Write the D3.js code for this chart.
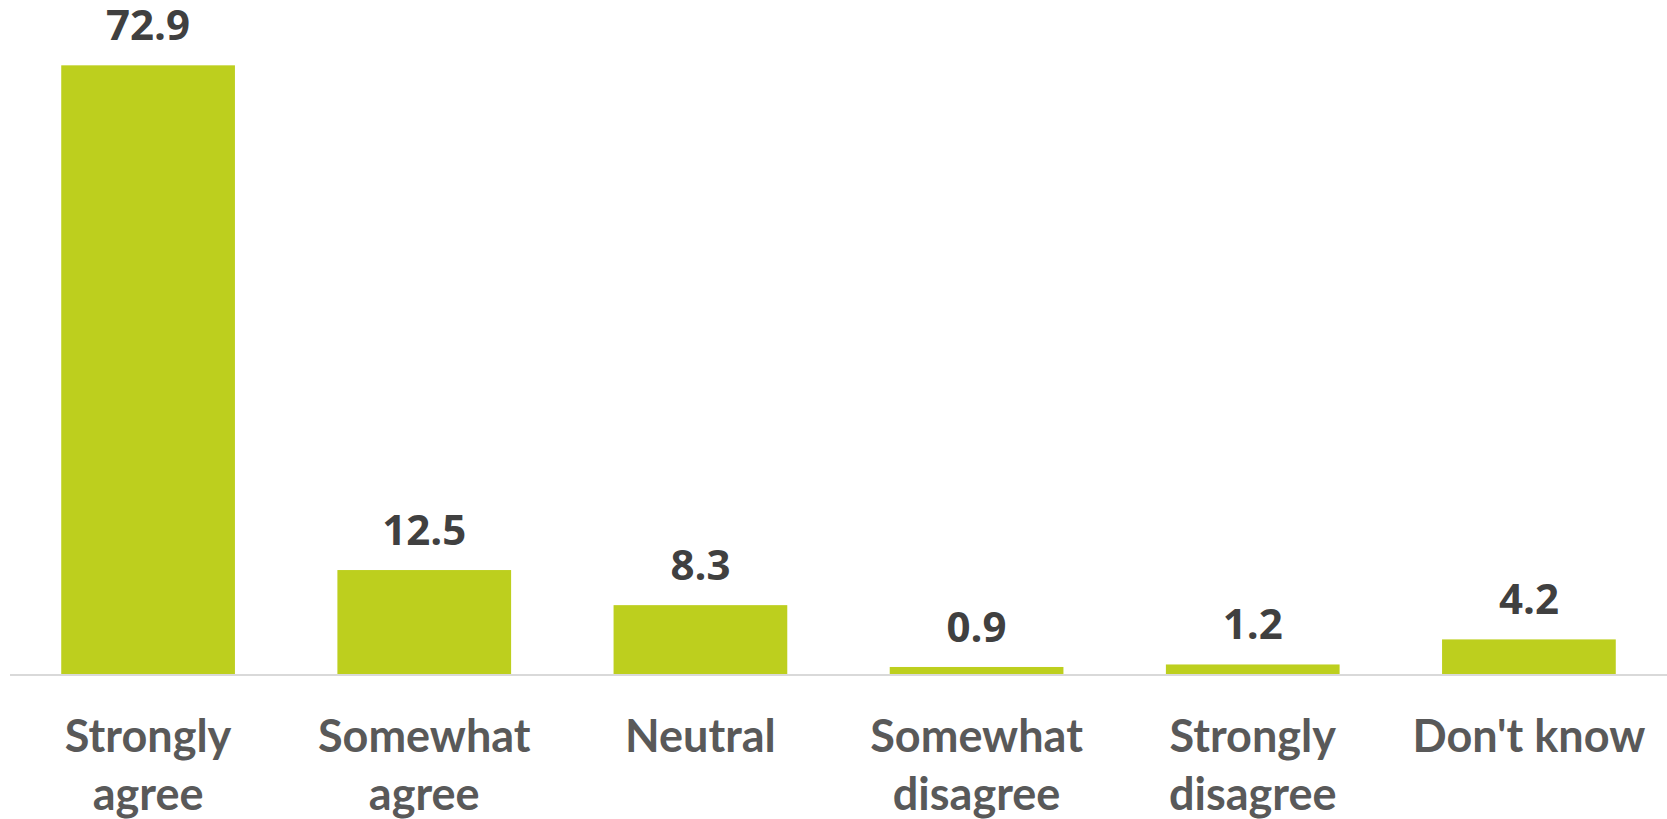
<!DOCTYPE html>
<html>
<meta charset="utf-8">
<script src="https://d3js.org/d3.v7.min.js"></script>
<style>
  body { margin: 0; background: #fff; }
</style>
<body>
<div id="barChart"></div>
<script>

    // chart data
    var categories = ["Strongly agree", "Somewhat agree", "Neutral", "Somewhat disagree", "Strongly disagree", "Don't know"];
    var values = [72.9, 12.5, 8.3, 0.9, 1.2, 4.2];
    var labelLines = [["Strongly", "agree"], ["Somewhat", "agree"], ["Neutral"], ["Somewhat", "disagree"], ["Strongly", "disagree"], ["Don't know"]];

    var data = categories.map(function(c, i) {
      return { cat: c, value: values[i], lines: labelLines[i] };
    });

    var width = 1667, height = 819;
    var margin = {left: 10, right: 0};
    var baseY = 674.5;

    var svg = d3.select("#barChart")
      .append("svg")
        .attr("width", width)
        .attr("height", height);

    var x = d3.scaleBand()
      .domain(categories)
      .range([margin.left, width - margin.right])
      .paddingInner(0.371)
      .paddingOuter(0.1855);

    var y = d3.scaleLinear()
      .domain([0, 80])
      .range([baseY, 6]);

    // bars
    svg.selectAll("rect.bar")
      .data(data)
      .enter()
      .append("rect")
        .attr("class", "bar")
        .attr("x", function(d) { return x(d.cat); })
        .attr("y", function(d) { return y(d.value); })
        .attr("width", x.bandwidth())
        .attr("height", function(d) { return baseY - y(d.value); })
        .attr("fill", "#bdcf1e");

    // baseline axis
    svg.append("line")
      .attr("x1", margin.left)
      .attr("x2", width - margin.right)
      .attr("y1", baseY + 0.5)
      .attr("y2", baseY + 0.5)
      .attr("stroke", "#d9d9d9")
      .attr("stroke-width", 2);

    // value labels
    svg.selectAll("text.val")
      .data(data)
      .enter()
      .append("text")
        .attr("class", "val")
        .attr("x", function(d) { return x(d.cat) + x.bandwidth() / 2; })
        .attr("y", function(d) { return y(d.value) - 25; })
        .attr("text-anchor", "middle")
        .style("font-family", "'Open Sans', sans-serif")
        .style("font-weight", "bold")
        .style("font-size", "42px")
        .style("fill", "#404040")
        .text(function(d) { return d.value.toFixed(1); });

    // category labels
    var cats = svg.selectAll("text.cat")
      .data(data)
      .enter()
      .append("text")
        .attr("class", "cat")
        .attr("text-anchor", "middle")
        .style("font-family", "Lato, sans-serif")
        .style("font-weight", "bold")
        .style("font-size", "45px")
        .style("fill", "#595959");

    cats.selectAll("tspan")
      .data(function(d) { return d.lines.map(function(l) { return {t: l, cat: d.cat}; }); })
      .enter()
      .append("tspan")
        .attr("x", function(d) { return x(d.cat) + x.bandwidth() / 2; })
        .attr("y", function(d, i) { return 752 + i * 58; })
        .text(function(d) { return d.t; });

</script>
</body>
</html>
